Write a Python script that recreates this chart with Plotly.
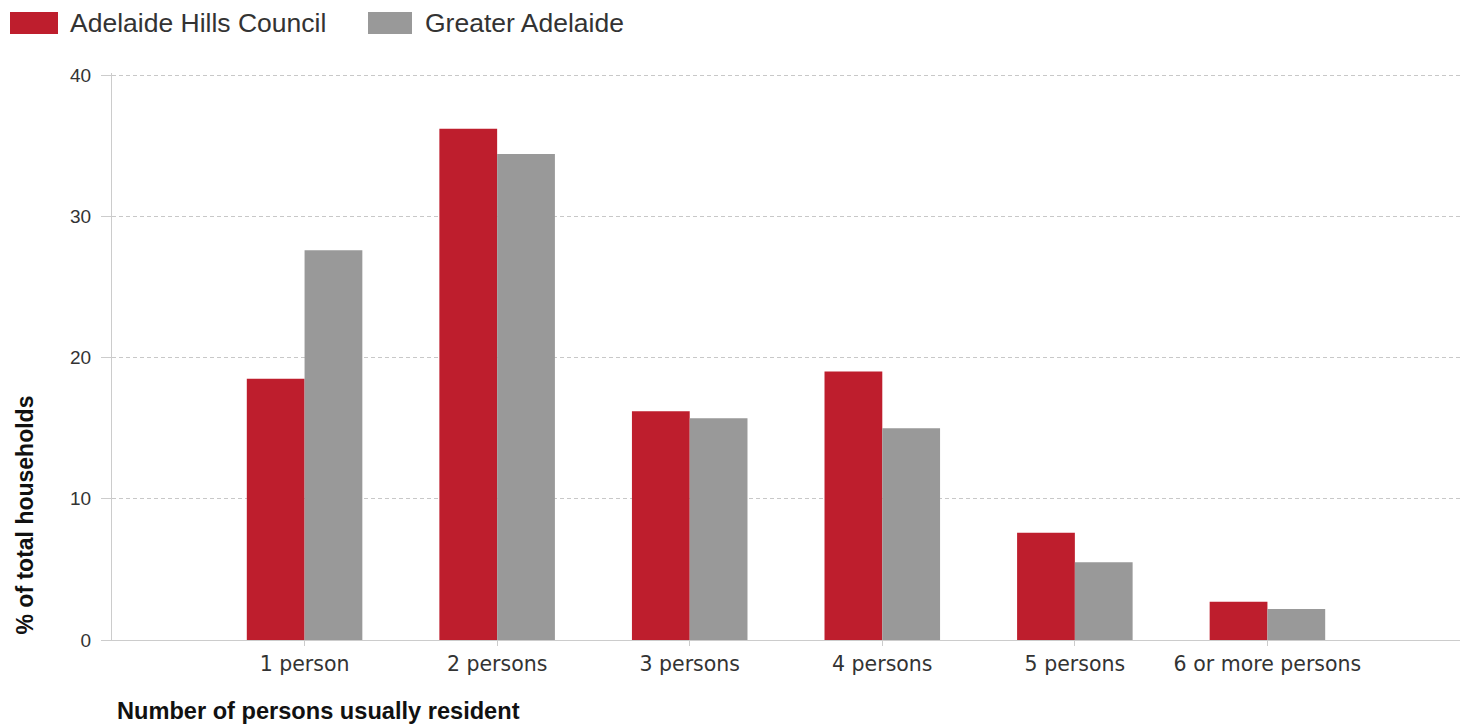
import plotly.graph_objects as go

# ---- data ----
categories = ["1 person", "2 persons", "3 persons", "4 persons", "5 persons", "6 or more persons"]
adelaide_hills = [18.5, 36.2, 16.2, 19.0, 7.6, 2.7]
greater_adelaide = [27.6, 34.4, 15.7, 15.0, 5.5, 2.2]
series_names = ["Adelaide Hills Council", "Greater Adelaide"]
series_colors = ["#BE1E2D", "#999999"]
y_tick_values = [0, 10, 20, 30, 40]
y_max = 40
y_title = "% of total households"
x_title = "Number of persons usually resident"

W, H = 1469, 725
ML, MR, MT, MB = 112, 9, 73, 85
PW, PH = W - ML - MR, H - MT - MB
TOP_PAD_PX = 2  # keep the 40 gridline just inside the plot area
y_range_top = y_max * PH / (PH - TOP_PAD_PX)


def px_x(p):
    return (p - ML) / PW


def px_y(p):
    return (H - MB - p) / PH


fig = go.Figure()
for name, vals, col in zip(series_names, [adelaide_hills, greater_adelaide], series_colors):
    fig.add_trace(go.Bar(x=categories, y=vals, name=name, marker_color=col,
                         marker_line_width=0, showlegend=False))

# custom legend (large swatches like the reference)
legend_items = [(10, 58, 68), (368, 412, 423)]
shapes = []
annotations = []
for (x0, x1, tx), name, col in zip(legend_items, series_names, series_colors):
    shapes.append(dict(type="rect", xref="paper", yref="paper",
                       x0=px_x(x0), x1=px_x(x1), y0=px_y(34), y1=px_y(12),
                       fillcolor=col, line_width=0))
    annotations.append(dict(text=name, xref="paper", yref="paper",
                            x=px_x(tx), y=px_y(23), xanchor="left", yanchor="middle",
                            showarrow=False,
                            font=dict(family="Liberation Sans, Arial", size=26.5, color="#333333")))

annotations.append(dict(text="<b>%s</b>" % y_title, xref="paper", yref="paper",
                        x=px_x(24), y=px_y(636), xanchor="center", yanchor="bottom",
                        textangle=-90, showarrow=False,
                        font=dict(family="Liberation Sans, Arial", size=23, color="#111111")))
annotations.append(dict(text="<b>%s</b>" % x_title, xref="paper", yref="paper",
                        x=px_x(115), y=px_y(711), xanchor="left", yanchor="middle",
                        showarrow=False,
                        font=dict(family="Liberation Sans, Arial", size=23.6, color="#111111")))

fig.update_layout(
    width=W, height=H,
    margin=dict(l=ML, r=MR, t=MT, b=MB),
    paper_bgcolor="white", plot_bgcolor="white",
    barmode="group", bargap=0.4, bargroupgap=0,
    shapes=shapes, annotations=annotations,
    showlegend=False,
)
fig.update_xaxes(
    type="category", range=[-1, 6],
    showline=True, linecolor="#cccccc", linewidth=1,
    ticks="outside", ticklen=5, tickcolor="#cccccc",
    showgrid=False, zeroline=False,
    tickfont=dict(family="DejaVu Sans", size=20.5, color="#333333"),
    ticklabelstandoff=0,
)
fig.update_yaxes(
    range=[0, y_range_top], tickvals=y_tick_values,
    showline=True, linecolor="#cccccc", linewidth=1,
    ticks="outside", ticklen=10, tickcolor="#cccccc",
    showgrid=True, gridcolor="#c8c8c8", griddash="4px,3px", gridwidth=1,
    zeroline=False,
    tickfont=dict(family="Liberation Sans, Arial", size=19, color="#333333"),
    ticklabelstandoff=6,
)

fig.write_html("out.html", config={"displayModeBar": False},
               post_script="document.body.style.margin='0';")
